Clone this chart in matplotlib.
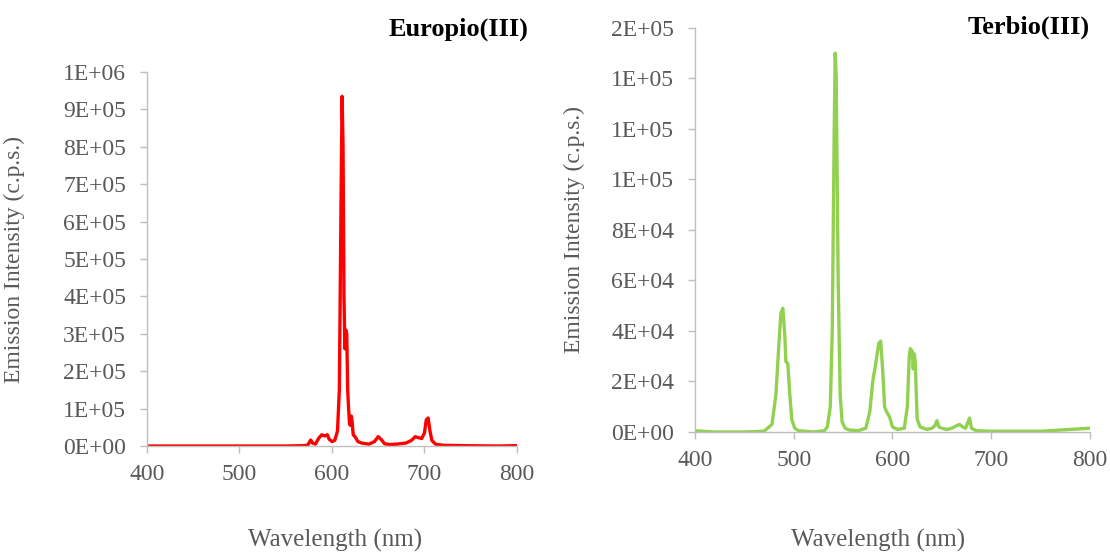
import numpy as np
import matplotlib.pyplot as plt
from matplotlib.ticker import FuncFormatter

# emission spectra (wavelength in nm, intensity in c.p.s.)
eu_wl = [400, 450, 500, 550, 570, 574, 577, 579, 582, 586, 589, 592, 595, 597, 600,
         603, 606, 608, 610, 611, 612, 613, 614, 615, 616, 617, 618, 619, 620, 621,
         622, 623, 625, 628, 632, 640, 646, 650, 653, 657, 662, 670, 680, 686, 690,
         694, 697, 700, 702, 704, 706, 708, 712, 720, 740, 760, 780, 800]
eu_int = [0, 0, 0, 0, 1000, 3000, 16000, 8000, 5000, 22000, 30000, 27000, 30000, 18000, 12000,
          15000, 40000, 150000, 700000, 935000, 800000, 400000, 260000, 310000, 300000, 150000, 100000, 60000, 55000, 80000,
          60000, 30000, 25000, 12000, 8000, 5000, 12000, 25000, 18000, 6000, 4000, 5000, 8000, 15000, 25000,
          22000, 20000, 35000, 70000, 75000, 40000, 15000, 5000, 2000, 1000, 500, 0, 1000]

tb_wl = [400, 420, 450, 470, 478, 482, 485, 487, 489, 491, 492, 494, 496, 498, 501,
         505, 520, 531, 534, 537, 539, 541, 542, 543, 545, 547, 549, 552, 556, 565,
         573, 577, 580, 583, 586, 588, 590, 592, 594, 597, 600, 605, 612, 615, 617,
         618, 620, 621, 622, 623, 625, 628, 635, 640, 643, 645, 647, 650, 655, 660,
         665, 668, 671, 674, 676, 678, 680, 685, 700, 750, 800]
tb_int = [500, 0, 0, 300, 3000, 15000, 35000, 47000, 49000, 38000, 28000, 27000, 15000, 5000, 1500,
          500, 0, 500, 2000, 10000, 40000, 120000, 150000, 140000, 60000, 15000, 4000, 1500, 800, 500,
          1500, 8000, 20000, 27000, 35000, 36000, 25000, 10000, 8000, 6000, 2000, 1000, 1500, 10000, 30000,
          33000, 32000, 25000, 31000, 28000, 5000, 2000, 1000, 1500, 2500, 4500, 2000, 1500, 1000, 1500,
          2500, 3000, 2000, 1500, 3500, 5500, 1500, 500, 300, 300, 1500]

eu_ticks = np.arange(0, 1.0e6 + 1, 1e5)
tb_ticks = np.arange(0, 1.6e5 + 1, 2e4)
wl_ticks = [400, 500, 600, 700, 800]

plt.rcParams['font.family'] = ['Liberation Serif', 'DejaVu Serif']

fig = plt.figure(figsize=(11.1, 5.52), dpi=100)
ax1 = fig.add_axes([0.1324, 0.1920, 0.3333, 0.6775])
ax2 = fig.add_axes([0.6261, 0.2174, 0.3559, 0.7319])

sci = FuncFormatter(lambda v, p: '{:.0E}'.format(v))

for ax, wl, inten, ticks, col in [(ax1, eu_wl, eu_int, eu_ticks, '#ff0000'),
                                  (ax2, tb_wl, tb_int, tb_ticks, '#92d050')]:
    ax.plot(wl, inten, color=col, lw=2.4, solid_joinstyle='round')
    ax.set_xlim(400, 800)
    ax.set_ylim(0, ticks[-1])
    ax.set_xticks(wl_ticks)
    ax.set_yticks(ticks)
    ax.yaxis.set_major_formatter(sci)
    for s in ['top', 'right']:
        ax.spines[s].set_visible(False)
    for s in ['left', 'bottom']:
        ax.spines[s].set_color('#bfbfbf')
        ax.spines[s].set_linewidth(1)
    ax.tick_params(axis='both', colors='#bfbfbf', labelcolor='#595959',
                   labelsize=17, length=5, width=1, direction='out')
    ax.tick_params(axis='y', pad=10)
    ax.tick_params(axis='x', pad=8)
    ax.set_ylabel('Emission Intensity (c.p.s.)', fontsize=17, color='#595959')
    ax.set_xlabel('Wavelength (nm)', fontsize=18, color='#595959')

ax1.yaxis.set_label_coords(-0.33, 0.5)
ax2.yaxis.set_label_coords(-0.278, 0.5)
ax1.xaxis.set_label_coords(0.508, -0.222)
ax2.xaxis.set_label_coords(0.463, -0.240)

fig.text(528 / 1110, 1 - 29 / 552, 'Europio(III)', ha='right', va='center',
         fontsize=19, fontweight='bold')
fig.text(1090 / 1110, 1 - 27 / 552, 'Terbio(III)', ha='right', va='center',
         fontsize=19, fontweight='bold')

fig.savefig('out.png', dpi=100)
